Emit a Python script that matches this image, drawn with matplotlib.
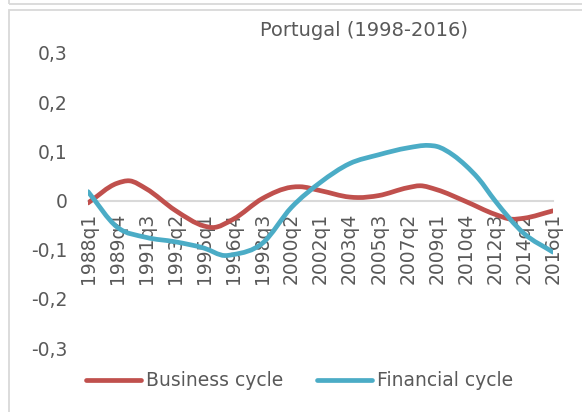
import matplotlib
matplotlib.use('Agg')
import matplotlib.pyplot as plt
from matplotlib.path import Path
from matplotlib.patches import PathPatch, Rectangle
from matplotlib.lines import Line2D
import numpy as np

# values (quarter, value)
bc_quarters = ['1988q1', '1989q4', '1990q3', '1991q3', '1993q2', '1995q1', '1995q3',
               '1996q4', '1998q3', '2000q2', '2000q4', '2002q1', '2003q4', '2004q2',
               '2005q3', '2007q2', '2008q1', '2009q1', '2010q4', '2012q3', '2013q3',
               '2014q2', '2016q1']
bc_values = [-0.005, 0.035, 0.040, 0.024, -0.020, -0.052, -0.055,
             -0.038, 0.004, 0.027, 0.028, 0.020, 0.007, 0.006,
             0.010, 0.026, 0.030, 0.022, -0.002, -0.028, -0.038,
             -0.036, -0.021]

fc_quarters = ['1988q1', '1989q4', '1991q3', '1993q2', '1995q1', '1996q2', '1996q4',
               '1998q3', '2000q2', '2002q1', '2003q4', '2005q3', '2007q2', '2008q3',
               '2009q1', '2010q1', '2010q4', '2011q3', '2012q3', '2014q2', '2016q1']
fc_values = [0.018, -0.054, -0.075, -0.084, -0.097, -0.112, -0.110,
             -0.087, -0.014, 0.037, 0.075, 0.093, 0.107, 0.112,
             0.110, 0.092, 0.071, 0.045, 0.000, -0.067, -0.105]

tick_labels = ['1988q1', '1989q4', '1991q3', '1993q2', '1995q1', '1996q4', '1998q3',
               '2000q2', '2002q1', '2003q4', '2005q3', '2007q2', '2009q1', '2010q4',
               '2012q3', '2014q2', '2016q1']
y_ticks = [-0.3, -0.2, -0.1, 0, 0.1, 0.2, 0.3]

RED = '#C0504D'
BLUE = '#4BACC6'
GREY = '#595959'


def qindex(q):
    return (int(q[:4]) - 1988) * 4 + int(q[-1]) - 1


def smooth_path(xs, ys):
    # smoothed line like excel: cubic hermite pieces drawn as bezier curves
    x = np.asarray(xs, float)
    y = np.asarray(ys, float)
    n = len(x)
    h = np.diff(x)
    d = np.diff(y) / h
    m = np.zeros(n)
    m[1:-1] = (h[:-1] * d[1:] + h[1:] * d[:-1]) / (h[:-1] + h[1:])
    m[0] = d[0]
    m[-1] = d[-1]
    verts = [(x[0], y[0])]
    codes = [Path.MOVETO]
    for i in range(n - 1):
        verts += [(x[i] + h[i] / 3, y[i] + m[i] * h[i] / 3),
                  (x[i + 1] - h[i] / 3, y[i + 1] - m[i + 1] * h[i] / 3),
                  (x[i + 1], y[i + 1])]
        codes += [Path.CURVE4] * 3
    return Path(verts, codes)


plt.rcParams['font.family'] = ['DejaVu Sans']

fig = plt.figure(figsize=(5.82, 4.12), dpi=100)

# outer chart frames
fig.patches.append(Rectangle((9 / 582, -0.1), 1.2, 1 - 10 / 412 + 0.1, transform=fig.transFigure,
                             fill=False, edgecolor='#d9d9d9', lw=1.3))
fig.patches.append(Rectangle((9 / 582, 1 - 4 / 412), 1.2, 0.2, transform=fig.transFigure,
                             fill=False, edgecolor='#d9d9d9', lw=1.3))

ax = fig.add_axes([88 / 582, 1 - 348 / 412, 465 / 582, 295 / 412])

for s in ['top', 'right', 'left']:
    ax.spines[s].set_visible(False)
ax.spines['bottom'].set_position(('data', 0))
ax.spines['bottom'].set_color('#d9d9d9')
ax.spines['bottom'].set_linewidth(1.5)
ax.spines['bottom'].set_zorder(1)

for qs, vals, col in [(bc_quarters, bc_values, RED), (fc_quarters, fc_values, BLUE)]:
    xs = [qindex(q) for q in qs]
    patch = PathPatch(smooth_path(xs, vals), fill=False, edgecolor=col, lw=3.4,
                      capstyle='round', joinstyle='round', zorder=3)
    ax.add_patch(patch)

ax.set_xlim(0, 112)
ax.set_ylim(-0.3, 0.3)
ax.set_xticks([qindex(t) for t in tick_labels])
ax.set_xticklabels(tick_labels, rotation=90, fontsize=13.5, color=GREY, va='top')
ax.set_yticks(y_ticks)
ax.set_yticklabels([('%g' % v).replace('.', ',') for v in y_ticks], fontsize=13.5, color=GREY)
ax.tick_params(axis='both', length=0)
ax.tick_params(axis='x', pad=9)
ax.tick_params(axis='y', pad=15)

fig.text(364 / 582, 1 - 31 / 412, 'Portugal (1998-2016)', ha='center', va='center',
         fontsize=14, color=GREY)

handles = [Line2D([], [], color=RED, lw=3.4, solid_capstyle='round'),
           Line2D([], [], color=BLUE, lw=3.4, solid_capstyle='round')]
fig.legend(handles, ['Business cycle', 'Financial cycle'], loc='center', ncol=2,
           bbox_to_anchor=(300 / 582, 1 - 381 / 412), frameon=False, fontsize=13.5,
           labelcolor=GREY, handlelength=2.9, handletextpad=0.3, columnspacing=1.8)

fig.savefig('out.png', dpi=100)
